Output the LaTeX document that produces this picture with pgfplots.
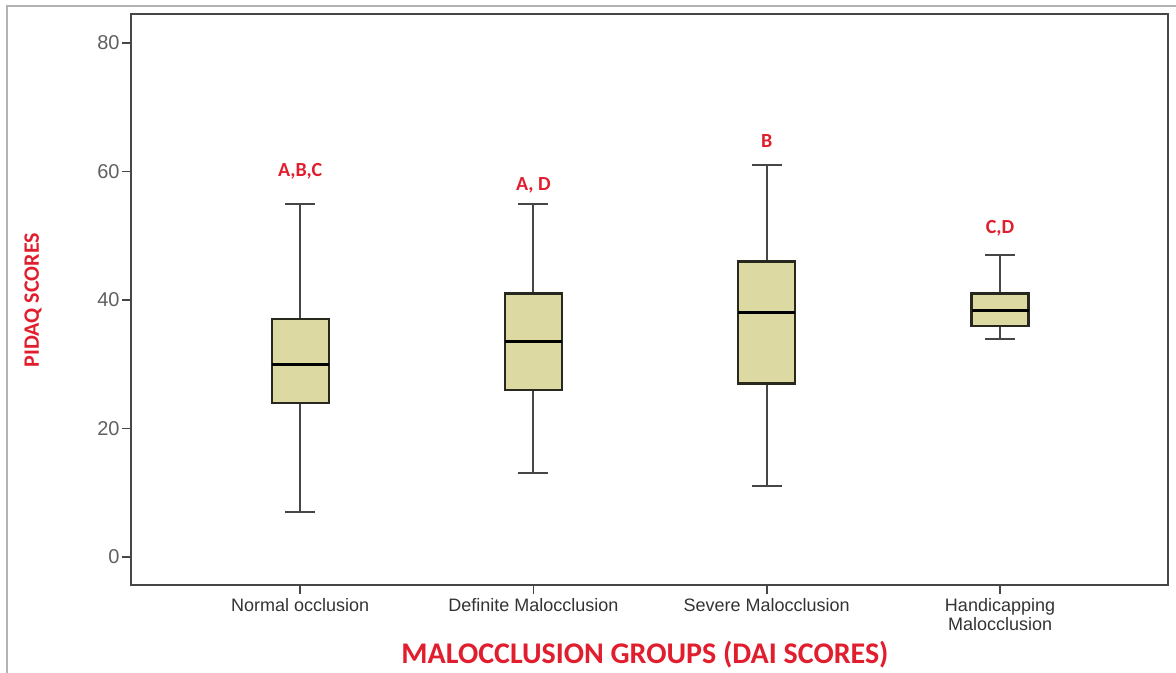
\documentclass[border=0pt]{standalone}
\usepackage{pgfplots}
\pgfplotsset{compat=1.18}
\usepgfplotslibrary{statistics}
\usepackage{fontspec}
\setmainfont{Liberation Sans}
\newfontfamily\carlito{Carlito}
\definecolor{boxfill}{RGB}{221,217,163}
\definecolor{lblred}{RGB}{225,30,45}
\definecolor{axgray}{RGB}{70,70,70}
\definecolor{boxedge}{RGB}{40,40,30}
\begin{document}
\begin{tikzpicture}
\useasboundingbox (0pt,0pt) rectangle (588pt,336.5pt);
\draw[gray!60, line width=0.7pt] (3.5pt,0pt) -- (3.5pt,333.5pt) -- (588pt,333.5pt);
\begin{axis}[
  at={(65.5pt,44pt)}, anchor=south west,
  scale only axis, width=518.5pt, height=285.5pt,
  xmin=-0.725, xmax=3.72, ymin=-4.36, ymax=84.51,
  axis line style={axgray, line width=1pt},
  xtick={0,1,2,3},
  xticklabels={Normal occlusion, Definite Malocclusion, Severe Malocclusion, {Handicapping\\Malocclusion}},
  ytick={0,20,40,60,80},
  tick align=outside, tick pos=left,
  major tick length=4.5pt,
  tick style={axgray, line width=0.8pt},
  /pgf/number format/assume math mode=true,
  yticklabel style={font=\fontsize{10}{12}\selectfont, text=gray!75!black, inner sep=1pt},
  xticklabel style={font=\fontsize{9}{8}\selectfont, text=black!80, align=center, inner sep=2pt},
  boxplot/draw direction=y,
  boxplot/box extend=0.244,
  boxplot/whisker extend=0.129,
  boxplot/every box/.style={draw=boxedge, fill=boxfill, line width=1.1pt},
  boxplot/every median/.style={draw=black, line width=1.4pt},
  boxplot/every whisker/.style={draw=axgray, line width=1pt},
]
\addplot[boxplot prepared={lower whisker=7, lower quartile=24, median=30, upper quartile=37, upper whisker=55, draw position=0}] coordinates {};
\addplot[boxplot prepared={lower whisker=13, lower quartile=26, median=33.5, upper quartile=41, upper whisker=55, draw position=1}] coordinates {};
\addplot[boxplot prepared={lower whisker=11, lower quartile=27, median=38, upper quartile=46, upper whisker=61, draw position=2}] coordinates {};
\addplot[boxplot prepared={lower whisker=34, lower quartile=36, median=38.4, upper quartile=41, upper whisker=47, draw position=3}] coordinates {};
\node[text=lblred, font=\carlito\bfseries\fontsize{10}{11}\selectfont] at (axis cs:0,60) {A,B,C};
\node[text=lblred, font=\carlito\bfseries\fontsize{10}{11}\selectfont] at (axis cs:1,57.8) {A, D};
\node[text=lblred, font=\carlito\bfseries\fontsize{10}{11}\selectfont] at (axis cs:2,64.7) {B};
\node[text=lblred, font=\carlito\bfseries\fontsize{10}{11}\selectfont] at (axis cs:3,51.2) {C,D};
\end{axis}
\node[text=lblred, font=\carlito\bfseries\fontsize{15}{17}\selectfont] at (322.5pt,9pt) {MALOCCLUSION GROUPS (DAI SCORES)};
\node[text=lblred, font=\carlito\bfseries\fontsize{11}{13}\selectfont, rotate=90] at (16.5pt,186.5pt) {PIDAQ SCORES};
\end{tikzpicture}
\end{document}
